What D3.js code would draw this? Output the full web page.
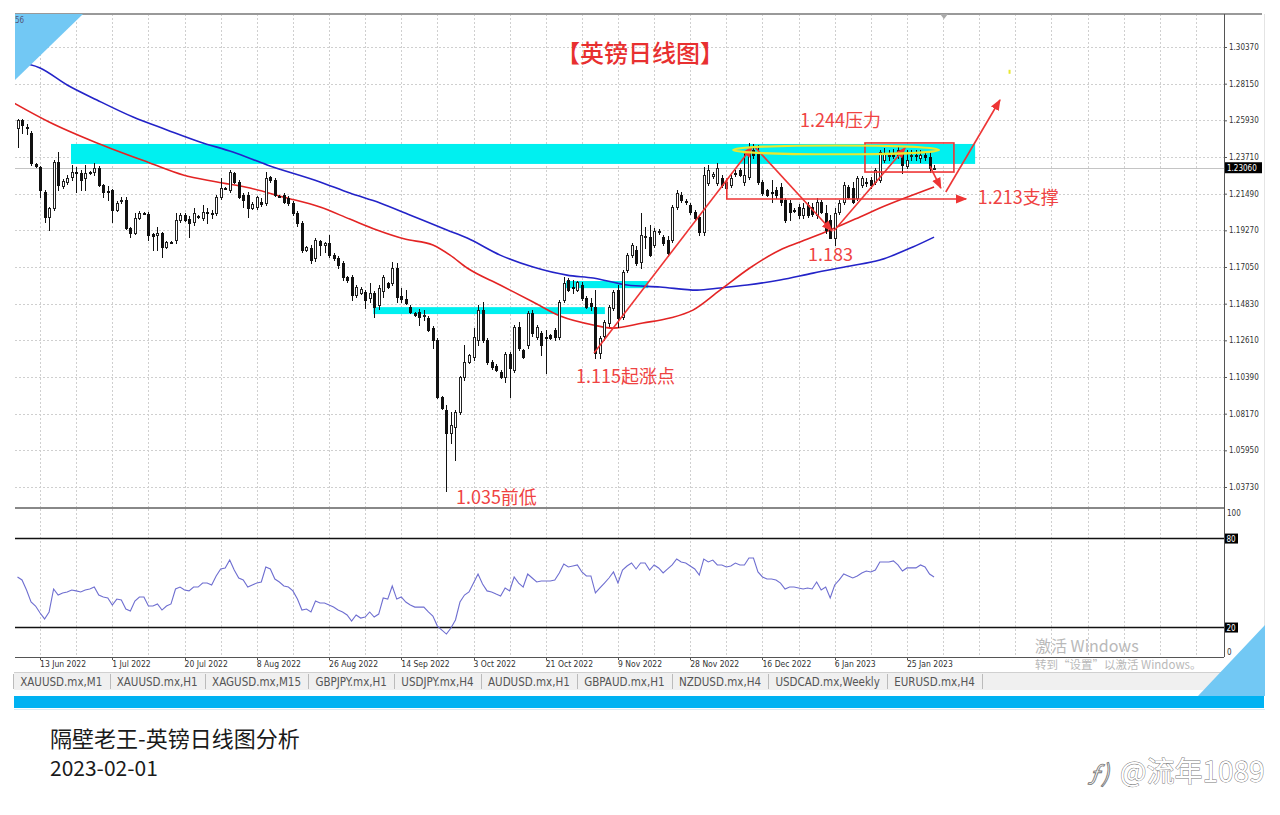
<!DOCTYPE html>
<html><head><meta charset="utf-8">
<script src="https://cdn.jsdelivr.net/npm/d3@7"></script>
<style>
body{margin:0;background:#fff;}
svg{display:block;}
.ui{font-family:"Liberation Sans Narrow","DejaVu Sans Condensed",Roboto,sans-serif;}
.cjk{font-family:"Noto Sans CJK SC","Noto Sans",sans-serif;}
</style>
</head><body>
<svg id="c" width="1280" height="815"></svg>
<script>
// ---------------- DATA ----------------
const startDate = "2022-06-07";           // first daily bar (Sun–Fri bars, no Saturdays)
const skipDates = ["2022-12-25","2023-01-01"];
// [open, high, low, close]
const ohlc = [
[1.2547,1.2602,1.2432,1.2595],[1.2595,1.2602,1.2517,1.2565],[1.2553,1.2571,1.2511,1.2547],[1.2517,1.2529,1.2323,1.2335],
[1.2329,1.2335,1.2311,1.2317],[1.2311,1.2317,1.2129,1.2171],[1.2159,1.2171,1.1978,1.2008],[1.2008,1.2069,1.1929,1.2063],
[1.2063,1.2353,1.2050,1.2341],[1.2341,1.2402,1.2171,1.2202],[1.2196,1.2238,1.2183,1.2226],[1.2220,1.2262,1.2208,1.2244],
[1.2250,1.2323,1.2232,1.2280],[1.2280,1.2311,1.2159,1.2274],[1.2274,1.2292,1.2171,1.2232],[1.2244,1.2323,1.2171,1.2274],
[1.2280,1.2286,1.2268,1.2278],[1.2280,1.2335,1.2262,1.2304],[1.2304,1.2317,1.2196,1.2202],[1.2202,1.2208,1.2129,1.2159],
[1.2165,1.2196,1.2111,1.2159],[1.2171,1.2177,1.1978,1.2050],[1.2050,1.2105,1.2044,1.2093],[1.2105,1.2129,1.2093,1.2111],
[1.2111,1.2129,1.1935,1.1941],[1.1941,1.1947,1.1886,1.1911],[1.1911,1.2032,1.1905,1.2002],[1.2002,1.2044,1.1996,1.2032],
[1.2032,1.2038,1.2026,1.2030],[1.2026,1.2038,1.1868,1.1899],[1.1905,1.1911,1.1808,1.1893],[1.1899,1.1947,1.1808,1.1911],
[1.1911,1.1917,1.1766,1.1826],[1.1826,1.1862,1.1820,1.1856],[1.1856,1.1862,1.1850,1.1854],[1.1868,1.2032,1.1850,1.1990],
[1.1990,1.2032,1.1978,1.2020],[1.2020,1.2032,1.1984,1.1990],[1.1996,1.2014,1.1886,1.1972],[1.1978,1.2063,1.1960,1.2032],
[1.2014,1.2020,1.2002,1.2008],[1.2002,1.2081,1.1990,1.2038],[1.2038,1.2063,1.1972,1.2036],[1.2032,1.2050,1.2002,1.2026],
[1.2032,1.2141,1.2020,1.2129],[1.2129,1.2244,1.2117,1.2183],[1.2183,1.2189,1.2177,1.2181],[1.2171,1.2292,1.2159,1.2280],
[1.2274,1.2280,1.2214,1.2220],[1.2220,1.2232,1.2123,1.2129],[1.2141,1.2153,1.2069,1.2111],[1.2141,1.2159,1.2008,1.2063],
[1.2063,1.2099,1.2056,1.2087],[1.2069,1.2135,1.2056,1.2129],[1.2099,1.2123,1.2075,1.2087],[1.2093,1.2280,1.2081,1.2244],
[1.2250,1.2256,1.2220,1.2232],[1.2232,1.2244,1.2135,1.2141],[1.2135,1.2141,1.2129,1.2133],[1.2141,1.2153,1.2093,1.2099],
[1.2123,1.2135,1.2081,1.2093],[1.2093,1.2105,1.2020,1.2032],[1.2032,1.2044,1.1954,1.1972],[1.1972,1.1984,1.1796,1.1808],
[1.1808,1.1832,1.1802,1.1826],[1.1820,1.1838,1.1729,1.1747],[1.1759,1.1880,1.1741,1.1868],[1.1860,1.1868,1.1778,1.1838],
[1.1838,1.1856,1.1796,1.1850],[1.1850,1.1899,1.1766,1.1778],[1.1778,1.1790,1.1747,1.1759],[1.1759,1.1772,1.1699,1.1717],
[1.1729,1.1741,1.1626,1.1644],[1.1644,1.1650,1.1614,1.1626],[1.1644,1.1656,1.1505,1.1535],[1.1535,1.1596,1.1523,1.1583],
[1.1547,1.1583,1.1541,1.1571],[1.1553,1.1565,1.1456,1.1505],[1.1517,1.1608,1.1493,1.1547],[1.1547,1.1559,1.1402,1.1462],
[1.1474,1.1596,1.1450,1.1577],[1.1560,1.1656,1.1523,1.1644],[1.1608,1.1614,1.1577,1.1583],[1.1608,1.1735,1.1596,1.1699],
[1.1699,1.1729,1.1493,1.1523],[1.1529,1.1577,1.1493,1.1511],[1.1511,1.1565,1.1481,1.1487],[1.1462,1.1474,1.1426,1.1432],
[1.1426,1.1432,1.1408,1.1414],[1.1432,1.1450,1.1353,1.1402],[1.1408,1.1444,1.1384,1.1414],[1.1396,1.1408,1.1317,1.1323],
[1.1335,1.1347,1.1214,1.1262],[1.1262,1.1275,1.0911,1.0917],[1.0917,1.0923,1.0844,1.0850],[1.0838,1.0868,1.0348,1.0699],
[1.0699,1.0826,1.0638,1.0747],[1.0735,1.0838,1.0535,1.0826],[1.0826,1.1044,1.0814,1.1038],[1.1038,1.1232,1.1020,1.1129],
[1.1129,1.1177,1.1123,1.1171],[1.1159,1.1335,1.1141,1.1280],[1.1262,1.1474,1.1232,1.1444],[1.1444,1.1493,1.1250,1.1262],
[1.1262,1.1275,1.1117,1.1129],[1.1129,1.1141,1.1087,1.1099],[1.1105,1.1117,1.1075,1.1081],[1.1069,1.1081,1.1032,1.1038],
[1.1038,1.1190,1.1008,1.1177],[1.1177,1.1190,1.0917,1.1093],[1.1081,1.1353,1.1069,1.1341],[1.1341,1.1371,1.1202,1.1214],
[1.1202,1.1208,1.1153,1.1159],[1.1232,1.1438,1.1214,1.1426],[1.1426,1.1444,1.1286,1.1305],[1.1280,1.1353,1.1268,1.1341],
[1.1305,1.1317,1.1171,1.1232],[1.1280,1.1323,1.1062,1.1274],[1.1292,1.1298,1.1268,1.1274],[1.1323,1.1335,1.1262,1.1280],
[1.1280,1.1505,1.1268,1.1493],[1.1505,1.1644,1.1493,1.1608],[1.1626,1.1638,1.1559,1.1565],[1.1583,1.1626,1.1547,1.1577],
[1.1565,1.1620,1.1559,1.1614],[1.1596,1.1614,1.1505,1.1517],[1.1517,1.1529,1.1456,1.1462],[1.1487,1.1517,1.1444,1.1468],
[1.1462,1.1565,1.1153,1.1184],[1.1184,1.1286,1.1153,1.1274],[1.1286,1.1384,1.1262,1.1371],[1.1365,1.1474,1.1347,1.1462],
[1.1456,1.1565,1.1444,1.1553],[1.1565,1.1596,1.1341,1.1396],[1.1402,1.1687,1.1390,1.1675],[1.1687,1.1790,1.1675,1.1778],
[1.1778,1.1850,1.1766,1.1838],[1.1808,1.1832,1.1717,1.1729],[1.1735,1.2032,1.1699,1.1899],[1.1886,1.1947,1.1820,1.1893],
[1.1886,1.1960,1.1772,1.1778],[1.1838,1.1941,1.1826,1.1923],[1.1915,1.1935,1.1905,1.1925],[1.1886,1.1899,1.1838,1.1850],
[1.1868,1.1893,1.1772,1.1790],[1.1868,1.2081,1.1856,1.2069],[1.2069,1.2171,1.2056,1.2153],[1.2141,1.2159,1.2099,1.2111],
[1.2105,1.2117,1.2087,1.2099],[1.2081,1.2093,1.2026,1.2038],[1.2038,1.2050,1.1990,1.2002],[1.2008,1.2020,1.1899,1.1917],
[1.1917,1.2311,1.1899,1.2262],[1.2214,1.2323,1.2202,1.2292],[1.2256,1.2280,1.2244,1.2268],[1.2214,1.2335,1.2202,1.2304],
[1.2244,1.2262,1.2189,1.2202],[1.2183,1.2232,1.2153,1.2220],[1.2202,1.2262,1.2189,1.2244],[1.2274,1.2292,1.2256,1.2272],
[1.2292,1.2304,1.2256,1.2262],[1.2220,1.2396,1.2202,1.2262],[1.2250,1.2456,1.2238,1.2414],[1.2414,1.2450,1.2365,1.2384],
[1.2396,1.2444,1.2208,1.2220],[1.2220,1.2232,1.2141,1.2153],[1.2171,1.2177,1.2135,1.2141],[1.2159,1.2232,1.2099,1.2153],
[1.2171,1.2189,1.2123,1.2141],[1.2189,1.2214,1.2081,1.2099],[1.2111,1.2123,1.1978,1.1990],[1.2093,1.2111,1.1990,1.2038],
[1.2050,1.2063,1.2038,1.2048],[1.2069,1.2087,1.2002,1.2020],[1.2020,1.2093,1.2002,1.2063],[1.2081,1.2099,1.2008,1.2020],
[1.2069,1.2093,1.2014,1.2026],[1.2020,1.2123,1.2002,1.2099],[1.2099,1.2111,1.2032,1.2038],[1.2032,1.2081,1.1911,1.1929],
[1.1990,1.2020,1.1880,1.1882],[1.1880,1.2063,1.1838,1.2032],[1.2038,1.2111,1.2026,1.2093],[1.2099,1.2220,1.2087,1.2202],
[1.2189,1.2202,1.2123,1.2129],[1.2183,1.2220,1.2093,1.2099],[1.2123,1.2256,1.2111,1.2244],[1.2202,1.2256,1.2189,1.2244],
[1.2220,1.2244,1.2196,1.2218],[1.2232,1.2250,1.2183,1.2202],[1.2220,1.2304,1.2208,1.2292],[1.2232,1.2414,1.2220,1.2402],
[1.2353,1.2426,1.2341,1.2396],[1.2377,1.2414,1.2353,1.2384],[1.2396,1.2420,1.2365,1.2377],[1.2384,1.2438,1.2365,1.2414],
[1.2402,1.2414,1.2274,1.2323],[1.2317,1.2414,1.2304,1.2353],[1.2377,1.2414,1.2353,1.2384],[1.2384,1.2414,1.2353,1.2377],
[1.2365,1.2414,1.2341,1.2384],[1.2384,1.2402,1.2353,1.2371],[1.2371,1.2402,1.2280,1.2304],[1.2304,1.2323,1.2298,1.2306]
];
// oscillator (lower panel, 0..100), one value per bar
const osc = [
54.1,52.1,45.3,37.2,34.5,29.8,25.8,30.5,46.0,41.9,43.3,44.0,45.3,44.7,44.0,45.3,46.0,47.3,41.9,40.6,
39.9,35.2,39.2,38.6,32.5,31.1,37.9,40.6,40.6,34.5,34.5,35.9,31.8,34.5,35.9,46.0,47.3,45.3,44.7,47.3,
47.3,50.0,50.0,48.7,54.8,59.5,60.2,65.5,58.8,53.4,52.1,47.3,48.7,50.0,50.7,60.8,59.5,52.7,50.7,48.0,
47.3,44.7,39.2,31.8,32.5,30.5,37.9,36.5,36.5,35.2,33.8,31.8,30.5,28.5,24.4,28.5,26.4,27.1,30.5,27.1,
29.1,39.9,39.2,48.0,39.2,40.6,37.2,35.2,33.8,33.8,33.8,30.5,27.8,21.0,18.3,15.6,19.7,25.1,37.2,41.9,
44.0,50.0,56.1,49.4,44.7,44.0,42.6,41.3,46.7,44.7,54.1,50.0,47.3,56.1,53.4,50.7,51.4,51.4,51.4,52.1,
56.8,62.8,60.8,61.5,62.2,57.5,54.8,54.8,43.3,46.7,50.0,53.4,57.5,50.0,58.8,61.5,63.5,59.5,63.5,63.5,
58.8,62.2,60.2,56.8,59.5,62.2,66.2,64.2,63.5,61.5,59.5,55.4,66.2,64.2,65.5,62.2,62.2,60.8,61.5,63.5,
62.2,62.2,66.9,66.9,57.5,54.1,52.7,52.7,52.1,50.0,46.0,47.3,47.3,46.7,46.0,46.7,46.0,50.7,45.3,47.3,
39.9,48.7,52.1,56.1,54.8,53.4,54.8,56.8,58.1,57.5,58.8,64.2,64.2,64.2,64.9,62.2,58.1,60.2,60.2,60.2,
62.2,60.8,56.1,54.1
];
// moving averages sampled at [bar index, price]
const maRed = [[-0.8,1.2698],[7,1.2583],[17.6,1.2456],[29.3,1.2335],[36.7,1.2262],[44.2,1.2220],[51.5,1.2183],
[58.8,1.2129],[67,1.2068],[73.6,1.1995],[79.6,1.1929],[85.8,1.1874],[92,1.1838],[95.8,1.1777],[99.6,1.1699],
[106.9,1.1596],[114.2,1.1493],[120.2,1.1408],[127.5,1.1354],[131.9,1.1335],[138.5,1.1366],[144.5,1.1396],
[149.6,1.1444],[155.6,1.1565],[162.2,1.1699],[168.9,1.1808],[173.3,1.1856],[180,1.1929],[186.6,1.2008],
[191,1.2062],[197.7,1.2135],[203,1.2190]];
const maBlue = [[-0.8,1.2952],[5,1.2910],[11,1.2807],[17.6,1.2716],[25.6,1.2613],[33.1,1.2535],[40.4,1.2462],
[47.7,1.2401],[55.3,1.2323],[67,1.2220],[73.6,1.2153],[80.3,1.2093],[86.9,1.2020],[95.1,1.1929],[99.6,1.1880],
[106.9,1.1777],[114.2,1.1705],[121.7,1.1656],[127.5,1.1638],[135,1.1596],[142.3,1.1584],[150.5,1.1565],
[155.6,1.1578],[161.6,1.1596],[168.9,1.1626],[176.2,1.1668],[184.4,1.1711],[191,1.1747],[198.3,1.1826],[203,1.1886]];
const priceTicks = [1.3037,1.2815,1.2593,1.2371,1.2149,1.1927,1.1705,1.1483,1.1261,1.1039,1.0817,1.0595,1.0373];
const dateTicks = ["2022-06-13","2022-07-01","2022-07-20","2022-08-08","2022-08-26","2022-09-14","2022-10-03",
"2022-10-21","2022-11-09","2022-11-28","2022-12-16","2023-01-06","2023-01-25"];
const oscLevels = [80,20];
const tabs = ["XAUUSD.mx,M1","XAUUSD.mx,H1","XAGUSD.mx,M15","GBPJPY.mx,H1","USDJPY.mx,H4","AUDUSD.mx,H1",
"GBPAUD.mx,H1","NZDUSD.mx,H4","USDCAD.mx,Weekly","EURUSD.mx,H4"];
// analyst markings: zones [i0,i1,p0,p1], lines [[i,p],[i,p]]
const zones = [[11.85,212.1,1.2450,1.2329],[78.8,130.1,1.1462,1.1420],[121.5,139.7,1.1620,1.1577]];
const trendLines = [
  [[127.7,1.1184],[162.7,1.2432]],
  [[163.3,1.2432],[180.4,1.1923]],
  [[180.8,1.1923],[196.6,1.2426]],
  [[202.1,1.2316],[204.5,1.2183]],
  [[205.6,1.2159],[217.6,1.2716]]
];
const supportLine = [[157.1,1.2244],[157.1,1.2117],[210.1,1.2117]];
const boxRange = [187.7,207.4,1.2456,1.2280];
const ellipse = {i:181.3, p:1.2414, di:22.8, dp:0.0027};
const notes = [
  {t:"1.244压力", i:173.3, p:1.2553},
  {t:"1.213支撑", i:212.7, p:1.2087},
  {t:"1.183",     i:175.1, p:1.1741},
  {t:"1.115起涨点", i:123.7, p:1.1002},
  {t:"1.035前低", i:97.1,  p:1.0269}
];

// ---------------- LAYOUT ----------------
const svg = d3.select("#c");
const L=15, R=1224, T=14, MB=507, OT=509, OB=657;
const step=4.515, x0=17.5;
const N = ohlc.length;

// dates for bars
const parse = d3.utcParse("%Y-%m-%d"), fmtKey = d3.utcFormat("%Y-%m-%d");
const dates = [];
for (let d = parse(startDate); dates.length < N; d = d3.utcDay.offset(d,1)) {
  if (d.getUTCDay() === 6 || skipDates.includes(fmtKey(d))) continue;
  dates.push(fmtKey(d));
}
const xi = d3.scaleLinear().domain([0, N-1]).range([x0, x0 + (N-1)*step]);
const y = d3.scaleLinear().domain([1.0373, 1.3037]).range([487, 47]);
const yo = d3.scaleLinear().domain([0,100]).range([657.2, 508.9]);

const defs = svg.append("defs");
defs.append("clipPath").attr("id","clipMain").append("rect").attr("x",L).attr("y",T).attr("width",R-L).attr("height",MB-T);
defs.append("clipPath").attr("id","clipOsc").append("rect").attr("x",L).attr("y",OT).attr("width",R-L).attr("height",OB-OT);
defs.append("marker").attr("id","arr").attr("viewBox","0 0 10 10").attr("refX",9).attr("refY",5)
  .attr("markerWidth",7).attr("markerHeight",7).attr("orient","auto-start-reverse")
  .append("path").attr("d","M0,1 L10,5 L0,9 Z").attr("fill","#ee3535");

// grid
const grid = svg.append("g").attr("stroke","#cfcfcf").attr("stroke-dasharray","2,2").attr("shape-rendering","crispEdges");
const gridIdx = d3.range(5, 400, 8).filter(i => xi(i) < R);
gridIdx.forEach(i => {
  const gx = Math.round(xi(i)) + 0.5;
  grid.append("line").attr("x1",gx).attr("x2",gx).attr("y1",T).attr("y2",MB);
  grid.append("line").attr("x1",gx).attr("x2",gx).attr("y1",OT).attr("y2",OB);
});
priceTicks.forEach(p => {
  const gy = Math.round(y(p)) + 0.5;
  grid.append("line").attr("x1",L).attr("x2",R).attr("y1",gy).attr("y2",gy);
});

// cyan zones
const main = svg.append("g").attr("clip-path","url(#clipMain)");
main.selectAll("rect.zone").data(zones).join("rect").attr("class","zone")
  .attr("x",d=>xi(d[0])).attr("width",d=>xi(d[1])-xi(d[0]))
  .attr("y",d=>y(d[2])).attr("height",d=>y(d[3])-y(d[2])).attr("fill","#00f0f0");

// bid line
const last = ohlc[N-1][3];
main.append("line").attr("x1",L).attr("x2",R).attr("y1",Math.round(y(last))+0.5).attr("y2",Math.round(y(last))+0.5)
  .attr("stroke","#c4c4c4").attr("stroke-width",1);

// MAs
const maLine = d3.line().x(d=>xi(d[0])).y(d=>y(d[1])).curve(d3.curveMonotoneX);
main.append("path").attr("d",maLine(maBlue)).attr("fill","none").attr("stroke","#2323c8").attr("stroke-width",1.6);
main.append("path").attr("d",maLine(maRed)).attr("fill","none").attr("stroke","#e32424").attr("stroke-width",1.6);

// candles
const cg = main.append("g").attr("shape-rendering","crispEdges");
ohlc.forEach((d,i) => {
  const [o,h,l,c] = d;
  const cx = Math.round(xi(i));
  cg.append("line").attr("x1",cx+0.5).attr("x2",cx+0.5).attr("y1",Math.round(y(h))).attr("y2",Math.round(y(l))+1)
    .attr("stroke","#111").attr("stroke-width",1);
  const top = Math.round(y(Math.max(o,c))), bot = Math.round(y(Math.min(o,c)));
  if (c >= o) {
    cg.append("rect").attr("x",cx-0.5).attr("y",top+0.5).attr("width",2).attr("height",Math.max(bot-top,1))
      .attr("fill","#fff").attr("stroke","#222").attr("stroke-width",1);
  } else {
    cg.append("rect").attr("x",cx-1).attr("y",top).attr("width",3).attr("height",Math.max(bot-top,1)+1).attr("fill","#111");
  }
});

// analyst marks
const red = "#ee3535";
trendLines.forEach(t => {
  main.append("line").attr("x1",xi(t[0][0])).attr("y1",y(t[0][1])).attr("x2",xi(t[1][0])).attr("y2",y(t[1][1]))
    .attr("stroke",red).attr("stroke-width",1.6).attr("marker-end","url(#arr)");
});
main.append("path").attr("d",d3.line().x(d=>xi(d[0])).y(d=>y(d[1]))(supportLine))
  .attr("fill","none").attr("stroke",red).attr("stroke-width",1.6).attr("marker-end","url(#arr)");
main.append("rect").attr("x",xi(boxRange[0])).attr("y",y(boxRange[2])).attr("width",xi(boxRange[1])-xi(boxRange[0]))
  .attr("height",y(boxRange[3])-y(boxRange[2])).attr("fill","none").attr("stroke",red).attr("stroke-width",1.6);
main.append("ellipse").attr("cx",xi(ellipse.i)).attr("cy",y(ellipse.p))
  .attr("rx",xi(ellipse.i+ellipse.di)-xi(ellipse.i)).attr("ry",y(ellipse.p-ellipse.dp)-y(ellipse.p))
  .attr("fill","none").attr("stroke","#e8e830").attr("stroke-width",2);
main.append("rect").attr("x",xi(219.5)).attr("y",y(1.2899)).attr("width",2).attr("height",4).attr("fill","#e8e830");

// notes
main.selectAll("text.note").data(notes).join("text").attr("class","note cjk")
  .attr("x",d=>xi(d.i)).attr("y",d=>y(d.p)).attr("fill","#ef4343").attr("font-size",18).text(d=>d.t);
svg.append("text").attr("class","cjk").attr("x",640).attr("y",62).attr("text-anchor","middle")
  .attr("fill","#e83030").attr("font-size",24).attr("font-weight",500).text("【英镑日线图】");

// oscillator
const og = svg.append("g").attr("clip-path","url(#clipOsc)");
oscLevels.forEach(v => og.append("line").attr("x1",L).attr("x2",R).attr("y1",yo(v)).attr("y2",yo(v))
  .attr("stroke","#111").attr("stroke-width",1.4));
og.append("path").attr("d",d3.line().x((d,i)=>xi(i)).y(d=>yo(d))(osc)).attr("fill","none")
  .attr("stroke","#6e6ed0").attr("stroke-width",1.1);

// frame
const fr = svg.append("g").attr("shape-rendering","crispEdges");
fr.append("line").attr("x1",L).attr("x2",1262).attr("y1",13.5).attr("y2",13.5).attr("stroke","#999").attr("stroke-width",2);
fr.append("line").attr("x1",L).attr("x2",R).attr("y1",MB+0.5).attr("y2",MB+0.5).attr("stroke","#888").attr("stroke-width",2);
fr.append("line").attr("x1",L).attr("x2",R).attr("y1",OB+0.5).attr("y2",OB+0.5).attr("stroke","#555");
fr.append("line").attr("x1",R+0.5).attr("x2",R+0.5).attr("y1",T).attr("y2",OB).attr("stroke","#555");
fr.append("line").attr("x1",1264.5).attr("x2",1264.5).attr("y1",T).attr("y2",672).attr("stroke","#e4e4e4");

// top-left corner triangle + partial label
svg.append("path").attr("d",`M${L},${T} L83,${T} L${L},80 Z`).attr("fill","#72c8f4");
svg.append("text").attr("class","ui").attr("x",15).attr("y",23).attr("font-size",8).attr("fill","#557").text("56");
svg.append("path").attr("d","M940,14 L948,14 L944,19 Z").attr("fill","#aaa");

// price axis
const ax = svg.append("g").attr("class","ui").attr("transform",`translate(${R},0)`)
  .call(d3.axisRight(y).tickValues(priceTicks).tickFormat(d3.format(".5f")).tickSize(3).tickPadding(2));
ax.select(".domain").remove();
ax.selectAll("text").attr("font-size",8).attr("fill","#333").style("font-family",'"Liberation Sans Narrow","DejaVu Sans Condensed",Roboto,sans-serif');
ax.selectAll("line").attr("stroke","#555");
svg.append("rect").attr("x",R+1).attr("y",y(last)-5.5).attr("width",37).attr("height",11).attr("fill","#000");
svg.append("text").attr("class","ui").attr("x",R+3).attr("y",y(last)+3).attr("font-size",8).attr("fill","#fff")
  .text(d3.format(".5f")(last));

// osc axis
svg.append("text").attr("class","ui").attr("x",R+3).attr("y",yo(100)+7).attr("font-size",8).attr("fill","#333").text("100");
svg.append("text").attr("class","ui").attr("x",R+3).attr("y",yo(0)-2).attr("font-size",8).attr("fill","#333").text("0");
oscLevels.forEach(v => {
  svg.append("rect").attr("x",R+1).attr("y",yo(v)-5).attr("width",13).attr("height",10).attr("fill","#000");
  svg.append("text").attr("class","ui").attr("x",R+2.5).attr("y",yo(v)+3).attr("font-size",8).attr("fill","#fff").text(v);
});

// date axis
const fmtLabel = d3.utcFormat("%-d %b %Y");
dateTicks.forEach(k => {
  const i = dates.indexOf(k);
  if (i < 0) return;
  svg.append("line").attr("x1",Math.round(xi(i))+0.5).attr("x2",Math.round(xi(i))+0.5).attr("y1",OB).attr("y2",OB+3).attr("stroke","#555");
  svg.append("text").attr("class","ui").attr("x",xi(i)).attr("y",667).attr("font-size",8.5).attr("fill","#333")
    .text(fmtLabel(parse(k)));
});

// tabs
svg.append("rect").attr("x",L-1).attr("y",672).attr("width",1265-L).attr("height",18).attr("fill","#f0f0f0");
svg.append("line").attr("x1",L-1).attr("x2",1265).attr("y1",672.5).attr("y2",672.5).attr("stroke","#d0d0d0");
const tg = svg.append("g").attr("class","ui");
const tts = tabs.map(t => tg.append("text").attr("font-size",11.5).attr("fill","#555").attr("y",686).text(t));
const widths = tts.map(t => t.node().getComputedTextLength());
const pad = (982 - 13 - d3.sum(widths)) / tabs.length;
let tx = 13;
tts.forEach((t,k) => {
  t.attr("x", tx + pad/2);
  tx += widths[k] + pad;
  tg.append("line").attr("x1",Math.round(tx)+0.5).attr("x2",Math.round(tx)+0.5).attr("y1",674).attr("y2",689).attr("stroke","#bbb");
});
tg.append("line").attr("x1",13.5).attr("x2",13.5).attr("y1",674).attr("y2",689).attr("stroke","#bbb");
svg.append("text").attr("class","ui").attr("x",1238).attr("y",684).attr("font-size",9).attr("fill","#999").text("‹   ›");

// bottom-right triangle
svg.append("path").attr("d","M1198,696 L1265,625 L1265,696 Z").attr("fill","#72c8f4");
// blue status bar
svg.append("rect").attr("x",L-1).attr("y",696).attr("width",1265-L).attr("height",12).attr("fill","#00b2f2");
svg.append("line").attr("x1",L-1).attr("x2",1265).attr("y1",709.5).attr("y2",709.5).attr("stroke","#d8ecf6");

// windows watermark
svg.append("text").attr("class","cjk").attr("x",1035).attr("y",652).attr("font-size",16).attr("fill","#b9b9b9").text("激活 Windows");
svg.append("text").attr("class","cjk").attr("x",1035).attr("y",669).attr("font-size",11.5).attr("fill","#b9b9b9").text("转到“设置”以激活 Windows。");

// captions
svg.append("text").attr("class","cjk").attr("x",50).attr("y",747).attr("font-size",22).attr("fill","#1a1a1a").text("隔壁老王-英镑日线图分析");
svg.append("text").attr("class","cjk").attr("x",50).attr("y",776).attr("font-size",21).attr("fill","#1a1a1a").text("2023-02-01");
svg.append("text").attr("class","cjk").attr("x",1120).attr("y",782).attr("font-size",28).attr("fill","#fff")
  .attr("stroke","#777").attr("stroke-width",0.9).attr("paint-order","stroke").text("@流年1089");
svg.append("text").attr("class","cjk").attr("x",1088).attr("y",782).attr("font-size",24).attr("font-style","italic").attr("fill","#fff")
  .attr("stroke","#777").attr("stroke-width",0.9).text("ƒ)");
</script>
</body></html>
